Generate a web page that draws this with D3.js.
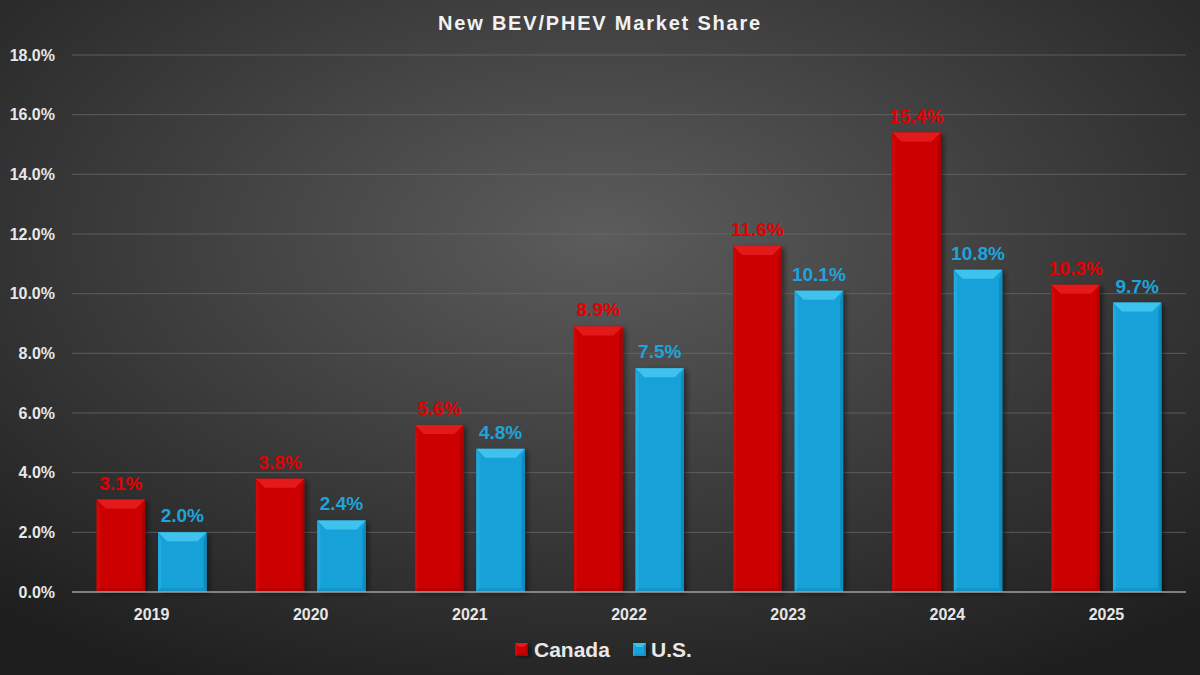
<!DOCTYPE html>
<html>
<head>
<meta charset="utf-8">
<script src="https://cdn.jsdelivr.net/npm/d3@7"></script>
<style>
  html, body { margin: 0; padding: 0; background: #2a2a2a; }
  svg { display: block; }
  text { font-family: "Liberation Sans", Arial, sans-serif; font-weight: bold; }
</style>
</head>
<body>
<div id="chart"></div>
<script>
var years = ['2019', '2020', '2021', '2022', '2023', '2024', '2025'];
var series = ['Canada', 'U.S.'];
var canada = [3.1, 3.8, 5.6, 8.9, 11.6, 15.4, 10.3];
var us = [2.0, 2.4, 4.8, 7.5, 10.1, 10.8, 9.7];
var yTicks = [0, 2, 4, 6, 8, 10, 12, 14, 16, 18];

var W = 1200, H = 675;
var margin = {top: 55, right: 14, bottom: 83, left: 72};

var colors = {
    'Canada': {main: '#cc0000', top: '#e41a1a', left: '#d40606', right: '#ae0000', bottom: '#b40000', label: '#e40000'},
    'U.S.':   {main: '#16a2d8', top: '#40c2ee', left: '#20ace0', right: '#0e8cbe', bottom: '#1294c8', label: '#1ea4dc'}
};

var svg = d3.select('#chart').append('svg')
    .attr('width', W)
    .attr('height', H);

var defs = svg.append('defs');
var bg = defs.append('radialGradient')
    .attr('id', 'bg')
    .attr('cx', '50%').attr('cy', '35%').attr('r', '75%');
bg.append('stop').attr('offset', '0%').attr('stop-color', '#5c5c5c');
bg.append('stop').attr('offset', '100%').attr('stop-color', '#1e1e1e');

var shadow = defs.append('filter').attr('id', 'shadow')
    .attr('x', '-20%').attr('y', '-20%').attr('width', '150%').attr('height', '140%');
shadow.append('feDropShadow')
    .attr('dx', 3).attr('dy', 2).attr('stdDeviation', 2.5)
    .attr('flood-color', '#000').attr('flood-opacity', 0.45);

svg.append('rect').attr('width', W).attr('height', H).attr('fill', 'url(#bg)');

var x0 = d3.scaleBand()
    .domain(years)
    .range([margin.left, W - margin.right])
    .paddingInner(0.31)
    .paddingOuter(0.155);

var x1 = d3.scaleBand()
    .domain(series)
    .range([0, x0.bandwidth()])
    .paddingInner(0.213);

var y = d3.scaleLinear()
    .domain([0, 18])
    .range([H - margin.bottom, margin.top]);

// gridlines
svg.append('g')
    .selectAll('line')
    .data(yTicks.slice(1))
    .enter().append('line')
        .attr('x1', margin.left)
        .attr('x2', W - margin.right)
        .attr('y1', function(d) { return y(d); })
        .attr('y2', function(d) { return y(d); })
        .attr('stroke', '#6e6e6e')
        .attr('stroke-opacity', 0.7)
        .attr('stroke-width', 1);

// y axis labels
var yAxis = d3.axisLeft(y)
    .tickValues(yTicks)
    .tickFormat(function(d) { return d.toFixed(1) + '%'; })
    .tickSize(0)
    .tickPadding(17);

var yg = svg.append('g')
    .attr('transform', 'translate(' + margin.left + ',0)')
    .call(yAxis);
yg.select('.domain').remove();
yg.selectAll('text')
    .attr('fill', '#e8e8e8')
    .style('font-size', '16px')
    .style('font-family', '"Liberation Sans", Arial, sans-serif')
    .style('font-weight', 'bold');

// x axis
var xAxis = d3.axisBottom(x0).tickSize(0).tickPadding(17);
var xg = svg.append('g')
    .attr('transform', 'translate(0,' + y(0) + ')')
    .call(xAxis);
xg.select('.domain').remove();
xg.selectAll('text')
    .attr('fill', '#e6e6e6')
    .style('font-size', '16px')
    .style('font-family', '"Liberation Sans", Arial, sans-serif')
    .style('font-weight', 'bold');

// bars data
var barData = [];
years.forEach(function(yr, i) {
    barData.push({year: yr, key: 'Canada', value: canada[i]});
    barData.push({year: yr, key: 'U.S.', value: us[i]});
});

// bar drawn as a bevelled block: body + four bevel faces
function bevelBar(g, x, yTop, w, h, c, bt, bs, bb) {
    var x2 = x + w, y2 = yTop + h;
    g.append('rect')
        .attr('x', x).attr('y', yTop).attr('width', w).attr('height', h)
        .attr('fill', c.main)
        .attr('filter', 'url(#shadow)');
    g.append('path')
        .attr('d', 'M' + x + ',' + yTop + 'L' + (x + bs) + ',' + (yTop + bt) + 'L' + (x + bs) + ',' + (y2 - bb) +
                   'L' + x + ',' + y2 + 'Z')
        .attr('fill', c.left);
    g.append('path')
        .attr('d', 'M' + x2 + ',' + yTop + 'L' + (x2 - bs) + ',' + (yTop + bt) + 'L' + (x2 - bs) + ',' + (y2 - bb) +
                   'L' + x2 + ',' + y2 + 'Z')
        .attr('fill', c.right);
    g.append('path')
        .attr('d', 'M' + x + ',' + y2 + 'L' + (x + bs) + ',' + (y2 - bb) + 'L' + (x2 - bs) + ',' + (y2 - bb) +
                   'L' + x2 + ',' + y2 + 'Z')
        .attr('fill', c.bottom);
    g.append('path')
        .attr('d', 'M' + x + ',' + yTop + 'L' + x2 + ',' + yTop + 'L' + (x2 - bt) + ',' + (yTop + bt) +
                   'L' + (x + bt) + ',' + (yTop + bt) + 'Z')
        .attr('fill', c.top);
}

var bars = svg.append('g');
barData.forEach(function(d) {
    var g = bars.append('g');
    var bx = x0(d.year) + x1(d.key);
    var by = y(d.value);
    bevelBar(g, bx, by, x1.bandwidth(), y(0) - by, colors[d.key], 9, 3, 4);
    g.append('text')
        .attr('x', bx + x1.bandwidth() / 2)
        .attr('y', by - 10)
        .attr('text-anchor', 'middle')
        .attr('fill', colors[d.key].label)
        .style('font-size', '19px')
        .text(d.value.toFixed(1) + '%');
});

// baseline
svg.append('line')
    .attr('x1', margin.left)
    .attr('x2', W - margin.right)
    .attr('y1', y(0))
    .attr('y2', y(0))
    .attr('stroke', '#a0a0a0')
    .attr('stroke-width', 1.5);

// title
svg.append('text')
    .attr('x', W / 2)
    .attr('y', 30)
    .attr('text-anchor', 'middle')
    .attr('fill', '#f2f2f2')
    .style('font-size', '20px')
    .style('letter-spacing', '1.8px')
    .text('New BEV/PHEV Market Share');

// legend
var legendItems = [
    {key: 'Canada', sx: 515, tx: 534},
    {key: 'U.S.', sx: 633, tx: 651}
];
var legend = svg.append('g');
legendItems.forEach(function(d) {
    var g = legend.append('g');
    bevelBar(g, d.sx, 643, 13, 13, colors[d.key], 4, 2, 2);
    g.append('text')
        .attr('x', d.tx)
        .attr('y', 657)
        .attr('fill', '#e8e8e8')
        .style('font-size', '21px')
        .text(d.key);
});
</script>
</body>
</html>
